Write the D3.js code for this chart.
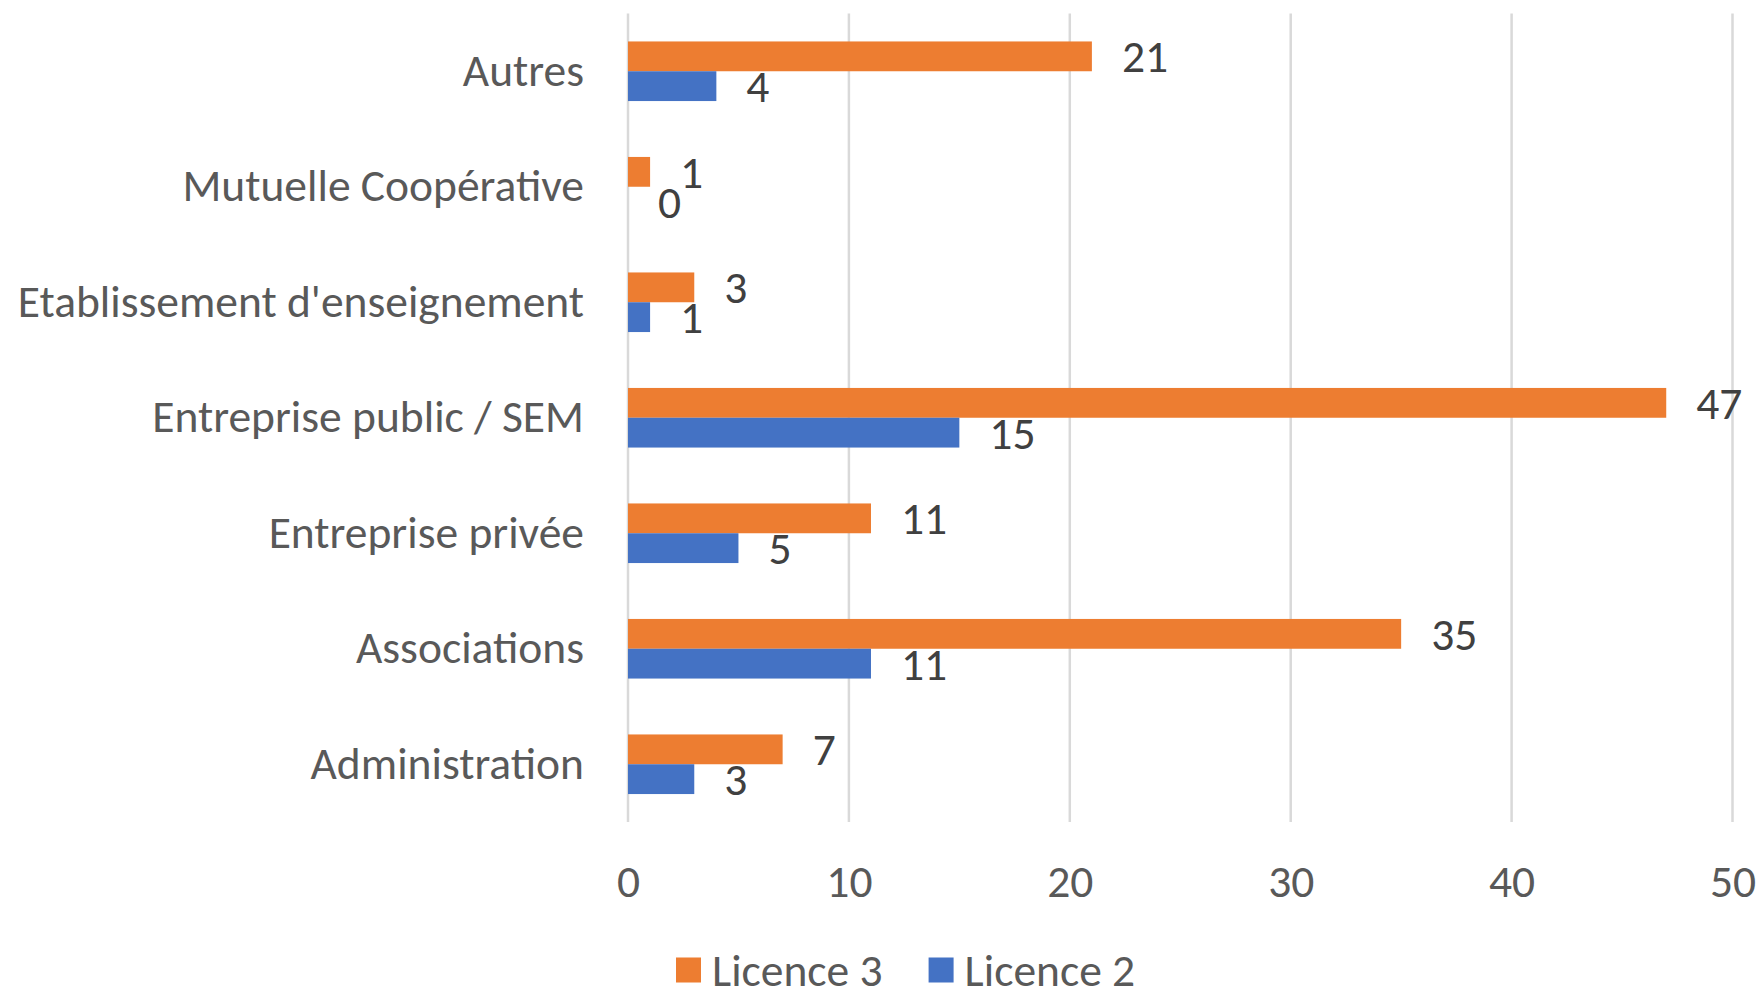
<!DOCTYPE html>
<html>
<head>
<meta charset="utf-8">
<script src="https://cdn.jsdelivr.net/npm/d3@7"></script>
<style>
  html, body { margin: 0; padding: 0; background: #fff; }
  svg text { font-family: Carlito, Calibri, Lato, sans-serif; }
</style>
</head>
<body>
<svg id="chart" width="1764" height="1001"></svg>
<script>
// Categories listed top to bottom
const categories = [
  "Autres",
  "Mutuelle Coopérative",
  "Etablissement d'enseignement",
  "Entreprise public / SEM",
  "Entreprise privée",
  "Associations",
  "Administration"
];
const licence3 = [21, 1, 3, 47, 11, 35, 7];
const licence2 = [4, 0, 1, 15, 5, 11, 3];
const seriesNames = ["Licence 3", "Licence 2"];
const seriesColors = ["#ED7D31", "#4472C4"];
const xTicks = [0, 10, 20, 30, 40, 50];

const svg = d3.select("#chart");
const plot = { left: 628, right: 1732.5, top: 13.5, bottom: 822 };
const fontSize = 45.5;

const x = d3.scaleLinear().domain([0, 50]).range([plot.left, plot.right]);
const y = d3.scaleBand().domain(categories).range([plot.top, plot.bottom]).padding(0);
const barH = y.bandwidth() * 0.258;

// vertical gridlines
svg.append("g")
  .selectAll("line")
  .data(xTicks)
  .join("line")
  .attr("x1", d => x(d)).attr("x2", d => x(d))
  .attr("y1", plot.top).attr("y2", plot.bottom)
  .attr("stroke", "#D9D9D9")
  .attr("stroke-width", 2.5);

// x-axis tick labels
const xAxis = d3.axisBottom(x).tickValues(xTicks).tickSize(0).tickPadding(0);
const gx = svg.append("g")
  .attr("transform", `translate(0, 881)`)
  .call(xAxis);
gx.select(".domain").remove();
gx.selectAll("text")
  .attr("dy", "0.35em")
  .attr("fill", "#595959")
  .style("font-size", fontSize + "px")
  .style("font-family", "Carlito, Calibri, Lato, sans-serif");

// category labels
const yAxis = d3.axisLeft(y).tickSize(0).tickPadding(0);
const gy = svg.append("g")
  .attr("transform", `translate(${plot.left - 44}, 0)`)
  .call(yAxis);
gy.select(".domain").remove();
gy.selectAll("text")
  .attr("fill", "#595959")
  .style("font-size", fontSize + "px")
  .style("font-family", "Carlito, Calibri, Lato, sans-serif");

// bars: Licence 3 on top, Licence 2 below, within each category band
const series = [licence3, licence2];
series.forEach((vals, si) => {
  const rows = categories.map((c, i) => ({ c, v: vals[i] }));
  const top = d => y(d.c) + y.bandwidth() / 2 - barH + si * barH;

  svg.append("g")
    .selectAll("rect")
    .data(rows)
    .join("rect")
    .attr("x", x(0))
    .attr("y", top)
    .attr("width", d => x(d.v) - x(0))
    .attr("height", barH)
    .attr("fill", seriesColors[si]);

  svg.append("g")
    .selectAll("text")
    .data(rows)
    .join("text")
    .attr("x", d => x(d.v) + 30)
    .attr("y", d => top(d) + barH / 2)
    .attr("dy", "0.35em")
    .attr("fill", "#404040")
    .style("font-size", fontSize + "px")
    .text(d => d.v);
});

// legend
const legend = svg.append("g").attr("transform", "translate(676, 970)");
let lx = 0;
seriesNames.forEach((name, i) => {
  const item = legend.append("g").attr("transform", `translate(${lx}, 0)`);
  item.append("rect")
    .attr("x", 0).attr("y", -12.5)
    .attr("width", 25).attr("height", 25)
    .attr("fill", seriesColors[i]);
  const t = item.append("text")
    .attr("x", 36)
    .attr("dy", "0.35em")
    .attr("fill", "#595959")
    .style("font-size", fontSize + "px")
    .text(name);
  lx += 36 + t.node().getComputedTextLength() + 46;
});
</script>
</body>
</html>
